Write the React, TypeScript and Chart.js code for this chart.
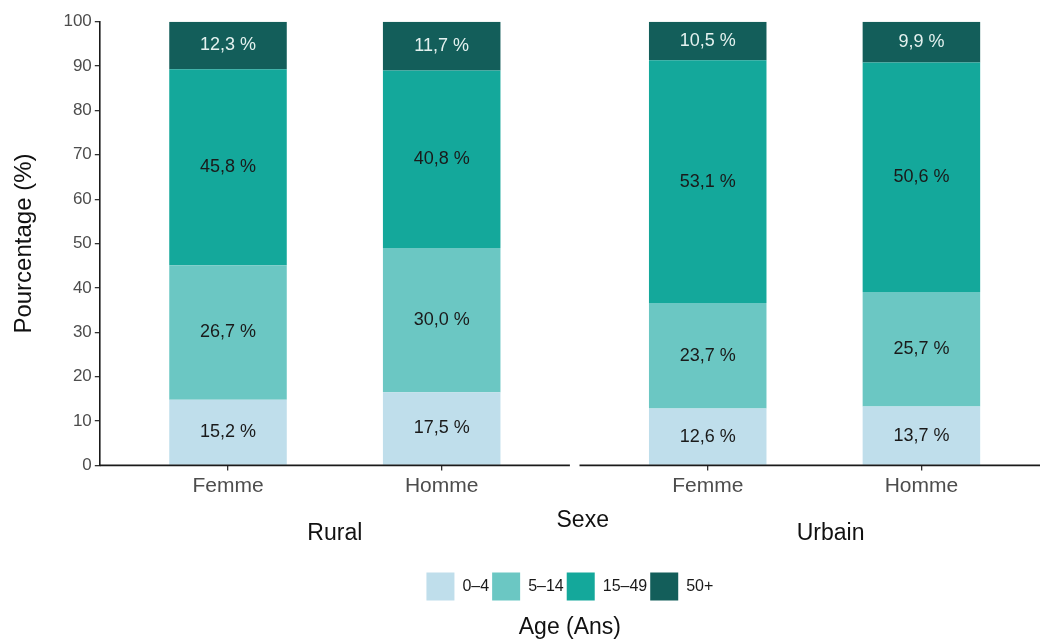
import React, { useEffect, useRef } from "react";
import { Chart, registerables } from "chart.js";

Chart.register(...registerables);

const FONT = "'Liberation Sans', Arial, Helvetica, sans-serif";

// ---- data ----
const facets = ["Rural", "Urbain"];
const xTickLabels = ["Femme", "Homme", "Femme", "Homme"];
// positions of the four bars on the shared continuous x axis (two facets)
const xPositions = [1, 2, 3.245, 4.245];
const ageGroups = ["0–4", "5–14", "15–49", "50+"];

// segment heights (%) as drawn
const age0_4 = [14.8, 16.5, 12.8, 13.3];
const age5_14 = [30.3, 32.5, 23.8, 25.8];
const age15_49 = [44.2, 40.0, 54.7, 51.7];
const age50p = [10.7, 11.0, 8.7, 9.2];

// printed labels
const lab0_4 = ["15,2 %", "17,5 %", "12,6 %", "13,7 %"];
const lab5_14 = ["26,7 %", "30,0 %", "23,7 %", "25,7 %"];
const lab15_49 = ["45,8 %", "40,8 %", "53,1 %", "50,6 %"];
const lab50p = ["12,3 %", "11,7 %", "10,5 %", "9,9 %"];

const yTicks = [0, 10, 20, 30, 40, 50, 60, 70, 80, 90, 100];

// ---- styling ----
const colors = ["#bfdeeb", "#6bc7c3", "#14a89b", "#135e5a"];
const labelColors = ["#1a1a1a", "#1a1a1a", "#1a1a1a", "#e4f1ef"];
const seriesValues = [age0_4, age5_14, age15_49, age50p];
const seriesLabels = [lab0_4, lab5_14, lab15_49, lab50p];

// facet panel extents on x axis
const X_MIN = 0.4;
const X_MAX = 4.8;
const panelRanges = [
  [0.4, 2.6],
  [2.645, 4.8],
];
const facetCenters = [1.5, 3.82];
const sexeCenter = 2.66;

const overlayPlugin = {
  id: "overlay",
  afterDatasetsDraw(chart: any) {
    const ctx = chart.ctx;
    ctx.save();
    ctx.font = `18px ${FONT}`;
    ctx.textAlign = "center";
    ctx.textBaseline = "middle";
    chart.data.datasets.forEach((ds: any, di: number) => {
      const meta = chart.getDatasetMeta(di);
      meta.data.forEach((el: any, i: number) => {
        const { x, y, base } = el.getProps(["x", "y", "base"], true);
        ctx.fillStyle = labelColors[di];
        ctx.fillText(seriesLabels[di][i], x, (y + base) / 2);
      });
    });
    ctx.restore();
  },
  afterDraw(chart: any) {
    const ctx = chart.ctx;
    const xs = chart.scales.x;
    const bottom = chart.chartArea.bottom;
    ctx.save();
    ctx.strokeStyle = "#1a1a1a";
    ctx.lineWidth = 1.6;
    panelRanges.forEach(([a, b]) => {
      ctx.beginPath();
      ctx.moveTo(xs.getPixelForValue(a), bottom);
      ctx.lineTo(xs.getPixelForValue(b), bottom);
      ctx.stroke();
    });
    ctx.fillStyle = "#111";
    ctx.textAlign = "center";
    ctx.textBaseline = "middle";
    ctx.font = `23px ${FONT}`;
    ctx.fillText("Sexe", xs.getPixelForValue(sexeCenter), bottom + 55);
    facets.forEach((f, i) => {
      ctx.fillText(f, xs.getPixelForValue(facetCenters[i]), bottom + 68);
    });
    ctx.restore();
  },
};

export default function App() {
  const ref = useRef<HTMLCanvasElement | null>(null);

  useEffect(() => {
    if (!ref.current) return;
    const chart = new Chart(ref.current, {
      type: "bar",
      data: {
        datasets: ageGroups.map((g, i) => ({
          label: g,
          data: xPositions.map((x, j) => ({ x, y: seriesValues[i][j] })),
          backgroundColor: colors[i],
          borderWidth: 0,
          barPercentage: 0.55,
          categoryPercentage: 1,
        })),
      },
      options: {
        responsive: false,
        animation: false,
        layout: { padding: { top: 21.7, left: 0, right: 0, bottom: 0 } },
        scales: {
          x: {
            type: "linear",
            stacked: true,
            min: X_MIN,
            max: X_MAX,
            offset: false,
            afterBuildTicks: (s: any) => {
              s.ticks = xPositions.map((v) => ({ value: v }));
            },
            afterFit: (s: any) => {
              s.height = 104;
            },
            ticks: {
              autoSkip: false,
              maxRotation: 0,
              padding: 3,
              color: "#4d4d4d",
              font: { family: FONT, size: 21 },
              callback: (_v: any, idx: number) => xTickLabels[idx],
            },
            grid: {
              offset: false,
              drawOnChartArea: false,
              drawTicks: true,
              tickLength: 5,
              color: "#333333",
              lineWidth: 1.3,
            },
            border: { display: false },
          },
          y: {
            stacked: true,
            min: 0,
            max: 100,
            afterBuildTicks: (s: any) => {
              s.ticks = yTicks.map((v) => ({ value: v }));
            },
            afterFit: (s: any) => {
              s.width = 99.8;
            },
            ticks: {
              padding: 3,
              color: "#4d4d4d",
              font: { family: FONT, size: 17 },
            },
            grid: {
              drawOnChartArea: false,
              drawTicks: true,
              tickLength: 5,
              color: "#333333",
              lineWidth: 1.3,
            },
            border: { display: true, color: "#1a1a1a", width: 1.6 },
            title: {
              display: true,
              text: "Pourcentage (%)",
              color: "#111",
              font: { family: FONT, size: 24 },
              padding: { top: 10, bottom: 0 },
            },
          },
        },
        plugins: {
          legend: {
            position: "bottom",
            fullSize: false,
            labels: {
              boxWidth: 28,
              boxHeight: 28,
              padding: 3,
              color: "#1a1a1a",
              font: { family: FONT, size: 16 },
            },
          },
          title: {
            display: true,
            position: "bottom",
            fullSize: false,
            text: "Age (Ans)",
            color: "#111",
            font: { family: FONT, size: 23, weight: "normal" },
            padding: { top: 3, bottom: 3 },
          },
          tooltip: { enabled: false },
        },
      } as any,
      plugins: [overlayPlugin],
    });
    return () => chart.destroy();
  }, []);

  return (
    <div style={{ position: "absolute", left: 0, top: 0, width: 1040, height: 644, background: "#fff" }}>
      <canvas ref={ref} width={1040} height={644} style={{ display: "block" }} />
    </div>
  );
}
